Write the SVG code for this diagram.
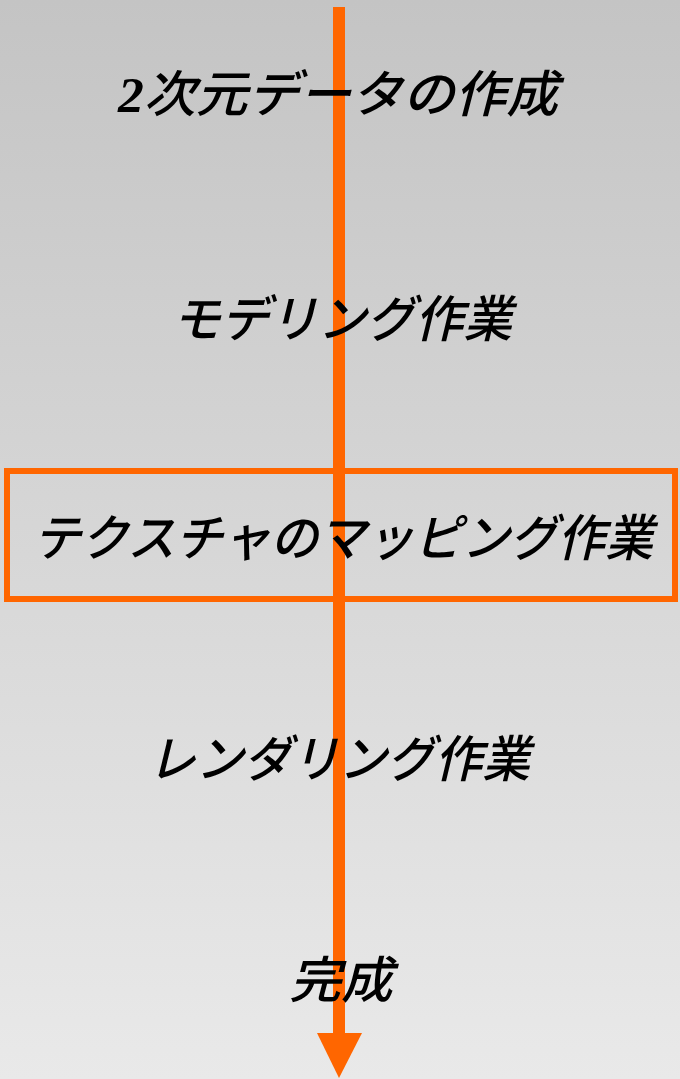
<svg xmlns="http://www.w3.org/2000/svg" width="680" height="1079" viewBox="0 0 680 1079">
<defs>
<linearGradient id="bg" x1="0" y1="0" x2="0" y2="1">
<stop offset="0" stop-color="#c4c4c4"/>
<stop offset="1" stop-color="#e9e9e9"/>
</linearGradient>
<style>
.lbl{font-family:"Noto Sans CJK JP","Noto Sans",sans-serif;font-size:50px;font-style:italic;font-weight:500;fill:#000;text-anchor:middle}
.num{font-family:"Liberation Serif",serif;font-weight:bold}
.box{fill:none;stroke:#ff6600;stroke-width:6}
.flow{stroke:#ff6600;stroke-width:12;fill:none}
</style>
</defs>
<rect x="0" y="0" width="680" height="1079" fill="url(#bg)"/>
<g id="node-mapping-box">
<rect class="box" x="7" y="471" width="668" height="128"/>
</g>
<g id="connectors">
<line class="flow" x1="339" y1="7" x2="339" y2="1035"/>
<polygon points="317,1033 362,1033 339,1078" fill="#ff6600"/>
</g>
<g id="node-2d">
<text class="lbl" x="338" y="112" textLength="440" lengthAdjust="spacingAndGlyphs"><tspan class="num">2</tspan>次元データの作成</text>
</g>
<g id="node-modeling">
<text class="lbl" x="342" y="337" textLength="340" lengthAdjust="spacingAndGlyphs">モデリング作業</text>
</g>
<g id="node-mapping">
<text class="lbl" x="343" y="556" textLength="620" lengthAdjust="spacingAndGlyphs">テクスチャのマッピング作業</text>
</g>
<g id="node-rendering">
<text class="lbl" x="339" y="777" textLength="382" lengthAdjust="spacingAndGlyphs">レンダリング作業</text>
</g>
<g id="node-done">
<text class="lbl" x="341" y="998" textLength="103" lengthAdjust="spacingAndGlyphs">完成</text>
</g>
</svg>
